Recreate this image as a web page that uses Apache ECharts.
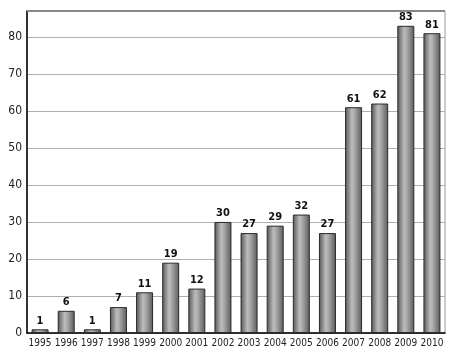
<!DOCTYPE html>
<html>
<head>
<meta charset="utf-8">
<script src="https://cdn.jsdelivr.net/npm/echarts@6/dist/echarts.min.js"></script>
<style>
  html, body { margin: 0; padding: 0; background: #fff; }
  #chart { width: 450px; height: 348px; }
</style>
</head>
<body>
<div id="chart"></div>
<script>
// Yearly counts, 1995–2010
const years = ['1995','1996','1997','1998','1999','2000','2001','2002','2003','2004','2005','2006','2007','2008','2009','2010'];
const counts = [1, 6, 1, 7, 11, 19, 12, 30, 27, 29, 32, 27, 61, 62, 83, 81];

const chart = echarts.init(document.getElementById('chart'), null, { renderer: 'canvas' });

// Cylinder-like shading across each bar
const barFill = new echarts.graphic.LinearGradient(0, 0, 1, 0, [
  { offset: 0, color: '#555555' },
  { offset: 0.4, color: '#bcbcbc' },
  { offset: 0.55, color: '#ababab' },
  { offset: 1, color: '#5a5a5a' }
]);

const font = 'DejaVu Sans Condensed';

chart.setOption({
  animation: false,
  grid: {
    left: 27, right: 5, top: 11, bottom: 15,
    show: true, borderColor: '#999', borderWidth: 1
  },
  xAxis: {
    type: 'category',
    data: years,
    axisLine: { lineStyle: { color: '#000', width: 1.5 } },
    axisTick: { show: false },
    axisLabel: { interval: 0, color: '#222', fontFamily: font, fontSize: 10, margin: 5 }
  },
  yAxis: {
    type: 'value',
    min: 0, max: 87, interval: 10,
    axisLine: { show: true, lineStyle: { color: '#000', width: 1.5 } },
    axisTick: { show: false },
    axisLabel: {
      color: '#222', fontFamily: font, fontSize: 12, margin: 5,
      formatter: v => (v % 10 === 0 ? String(v) : '')
    },
    splitLine: { lineStyle: { color: '#b0b0b0', width: 1 } }
  },
  graphic: [{
    type: 'line',
    shape: { x1: 27, y1: 11, x2: 445, y2: 11 },
    style: { stroke: '#888', lineWidth: 2 },
    z: 10
  }],
  series: [{
    type: 'bar',
    data: counts,
    barWidth: 17,
    itemStyle: { color: barFill, borderColor: '#2a2a2a', borderWidth: 1 },
    label: {
      show: true, position: 'top', distance: 3,
      color: '#111', fontFamily: font, fontSize: 11, fontWeight: 'bold'
    }
  }]
});
</script>
</body>
</html>
